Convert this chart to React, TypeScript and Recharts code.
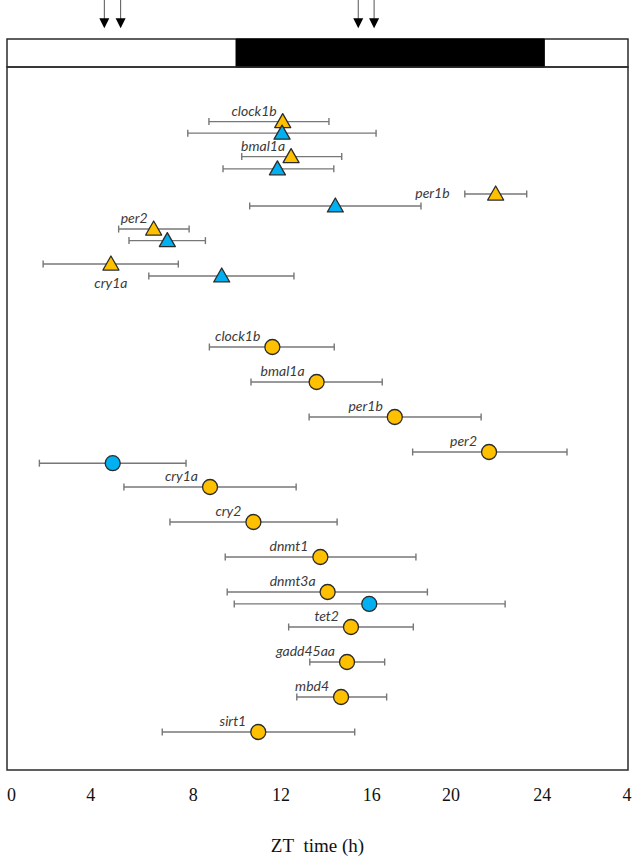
import { ScatterChart, Scatter, XAxis, YAxis, ErrorBar, ReferenceArea } from "recharts";

const ORANGE = "#FFC000";
const BLUE = "#00B0F0";
const EDGE = "#2b2b2b";
const TEXT = "#3a3a3a";

// x axis (ZT hours); tick labels sit where the original figure puts them
const tickPos = [0, 3.6, 8.26, 12.24, 16.36, 19.96, 24.11, 27.96];
const tickLabels = ["0", "4", "8", "12", "16", "20", "24", "4"];

// light / dark bar and sampling arrows
const darkStart = 10.2;
const darkEnd = 24.2;
const arrowTimes = [4.22, 4.96, 15.75, 16.47];

// triangles (upper block)
const triGenes = ["clock1b", "bmal1a", "per1b", "per2", "cry1a"];
const orangeTriRow = [1.56, 2.56, 3.63, 4.63, 5.63];
const orangeTriMean = [12.32, 12.7, 21.99, 6.46, 4.52];
const orangeTriLow = [8.97, 10.46, 20.59, 4.87, 1.44];
const orangeTriHigh = [14.42, 15.0, 23.4, 8.07, 7.58];
const blueTriRow = [1.89, 2.91, 3.97, 4.96, 5.97];
const blueTriMean = [12.29, 12.08, 14.71, 7.08, 9.55];
const blueTriLow = [8.01, 9.61, 10.82, 5.34, 6.24];
const blueTriHigh = [16.56, 14.64, 18.6, 8.81, 12.83];

// circles (lower block)
const circGenes = ["clock1b", "bmal1a", "per1b", "per2", "cry1a", "cry2", "dnmt1", "dnmt3a", "tet2", "gadd45aa", "mbd4", "sirt1"];
const circRow = [8, 9, 10, 11, 12, 13, 14, 15, 16, 17, 18, 19];
const circMean = [11.85, 13.86, 17.41, 21.69, 9.02, 10.99, 14.03, 14.36, 15.42, 15.24, 14.97, 11.21];
const circLow = [8.99, 10.88, 13.52, 18.22, 5.11, 7.2, 9.71, 9.8, 12.59, 13.55, 12.96, 6.85];
const circHigh = [14.66, 16.84, 21.33, 25.23, 12.93, 14.79, 18.37, 18.89, 18.25, 16.95, 17.04, 15.59];
const blueCircGenes = ["cry1a", "dnmt3a"];
const blueCircRow = [11.32, 15.34];
const blueCircMean = [4.6, 16.25];
const blueCircLow = [1.27, 10.12];
const blueCircHigh = [7.93, 22.42];

// where the gene name goes for the triangle rows
const triLabelSpot: Record<string, string> = { per1b: "left", cry1a: "below" };

const build = (genes: string[], rows: number[], mean: number[], low: number[], high: number[]) =>
    genes.map((g, i) => ({ gene: g, x: mean[i], y: rows[i], err: [mean[i] - low[i], high[i] - mean[i]] }));

const orangeTri = build(triGenes, orangeTriRow, orangeTriMean, orangeTriLow, orangeTriHigh);
const blueTri = build(triGenes, blueTriRow, blueTriMean, blueTriLow, blueTriHigh);
const orangeCirc = build(circGenes, circRow, circMean, circLow, circHigh);
const blueCirc = build(blueCircGenes, blueCircRow, blueCircMean, blueCircLow, blueCircHigh);
const arrows = arrowTimes.map(t => ({ x: t, y: -1.11 }));

const labelStyle = { fontFamily: "Lato, sans-serif", fontStyle: "italic" as const, fontSize: 14, fill: TEXT };

const Name = ({ x, y, anchor, text }: { x: number; y: number; anchor: "start" | "middle" | "end"; text: string }) => (
    <text x={x} y={y} textAnchor={anchor} {...labelStyle}>{text}</text>
);

// eslint-disable-next-line @typescript-eslint/no-explicit-any
const triangleShape = (fill: string, named: boolean) => (props: any) => {
    const { cx, cy, payload } = props;
    const spot = triLabelSpot[payload.gene] || "above";
    let label = null;
    if (named) {
        if (spot === "left") label = <Name x={cx - 46} y={cy + 4} anchor="end" text={payload.gene} />;
        else if (spot === "below") label = <Name x={cx} y={cy + 24} anchor="middle" text={payload.gene} />;
        else label = <Name x={cx - 6} y={cy - 6} anchor="end" text={payload.gene} />;
    }
    return (
        <g>
            <path d={`M${cx},${cy - 8} L${cx + 8},${cy + 6} L${cx - 8},${cy + 6} Z`} fill={fill} stroke={EDGE} strokeWidth={1.3} strokeLinejoin="round" />
            {label}
        </g>
    );
};

// eslint-disable-next-line @typescript-eslint/no-explicit-any
const circleShape = (fill: string, named: boolean) => (props: any) => {
    const { cx, cy, payload } = props;
    return (
        <g>
            <circle cx={cx} cy={cy} r={7.5} fill={fill} stroke={EDGE} strokeWidth={1.3} />
            {named && <Name x={cx - 12} y={cy - 6} anchor="end" text={payload.gene} />}
        </g>
    );
};

// eslint-disable-next-line @typescript-eslint/no-explicit-any
const arrowShape = (props: any) => {
    const { cx, cy } = props;
    return (
        <g>
            <line x1={cx} y1={0} x2={cx} y2={cy - 8} stroke="#555" strokeWidth={1} />
            <path d={`M${cx - 5},${cy - 10} L${cx + 5},${cy - 10} L${cx},${cy} Z`} fill="#000" />
        </g>
    );
};

const errProps = { dataKey: "err", direction: "x" as const, stroke: "#777", strokeWidth: 1.4, width: 3.5 };

export default function App() {
    return (
        <div style={{ position: "absolute", left: 0, top: 0, background: "#fff" }}>
            <ScatterChart width={643} height={865} margin={{ top: 0, right: 15, bottom: 0, left: 7 }}>
                <XAxis type="number"
                       dataKey="x"
                       domain={[-0.2, 28]}
                       allowDataOverflow
                       ticks={tickPos}
                       interval={0}
                       tickLine={false}
                       axisLine={false}
                       height={95}
                       tickSize={6}
                       tickMargin={12}
                       tick={{ fontSize: 18, fill: "#111", fontFamily: '"Liberation Serif", serif' }}
                       tickFormatter={(v: number) => tickLabels[tickPos.indexOf(v)]}
                       label={{ value: "ZT\u00a0\u00a0time (h)", position: "insideBottom", offset: 13, fontSize: 19, fill: "#111", fontFamily: '"Liberation Serif", serif' }} />
                <YAxis type="number" dataKey="y" domain={[-67 / 35, 703 / 35]} reversed hide allowDataOverflow />

                <ReferenceArea x1={-0.2} x2={28} y1={-0.8} y2={0} fill="#fff" fillOpacity={1} stroke={EDGE} strokeWidth={1.5} />
                <ReferenceArea x1={darkStart} x2={darkEnd} y1={-0.8} y2={0} fill="#000" fillOpacity={1} stroke="#000" />
                <ReferenceArea x1={-0.2} x2={28} y1={0} y2={703 / 35} fill="none" fillOpacity={0} stroke={EDGE} strokeWidth={1.5} />

                <Scatter data={orangeTri} shape={triangleShape(ORANGE, true)} isAnimationActive={false}>
                    <ErrorBar {...errProps} />
                </Scatter>
                <Scatter data={blueTri} shape={triangleShape(BLUE, false)} isAnimationActive={false}>
                    <ErrorBar {...errProps} />
                </Scatter>
                <Scatter data={orangeCirc} shape={circleShape(ORANGE, true)} isAnimationActive={false}>
                    <ErrorBar {...errProps} />
                </Scatter>
                <Scatter data={blueCirc} shape={circleShape(BLUE, false)} isAnimationActive={false}>
                    <ErrorBar {...errProps} />
                </Scatter>
                <Scatter data={arrows} shape={arrowShape} isAnimationActive={false} />
            </ScatterChart>
        </div>
    );
}
